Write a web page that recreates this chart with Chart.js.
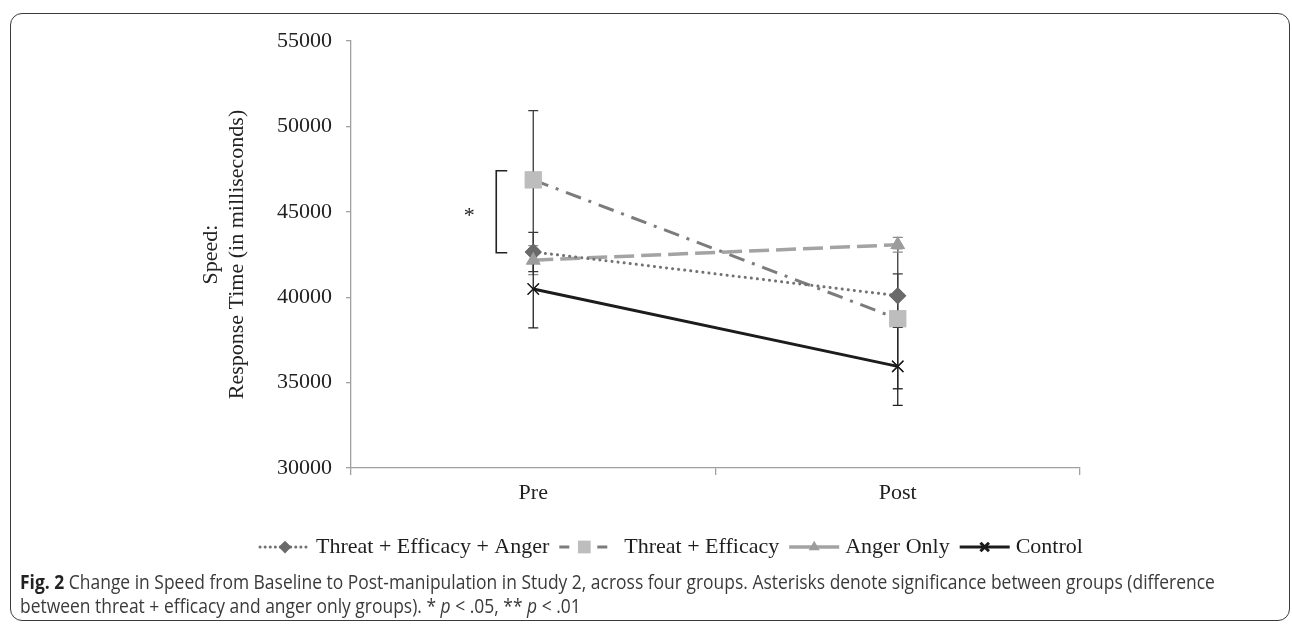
<!DOCTYPE html>
<html>
<head>
<meta charset="utf-8">
<script src="https://cdn.jsdelivr.net/npm/chart.js@4.4.1/dist/chart.umd.min.js"></script>
<style>
  html, body { margin: 0; padding: 0; background: #fff; }
  #wrap { position: relative; width: 1292px; height: 626px; overflow: hidden; }
  #moldura { position: absolute; left: 10px; top: 13px; width: 1280px; height: 608px;
    border: 1.5px solid #3a3a3a; border-radius: 12px; box-sizing: border-box; }
  #grafico { position: absolute; left: 0; top: 0; }
  #legenda-fig { position: absolute; left: 20px; top: 570px; color: #3a3a3a;
    font-family: "Open Sans", "Noto Sans", sans-serif; font-size: 19.5px;
    line-height: 24px; white-space: nowrap; transform: scaleX(0.895); transform-origin: 0 0; }
  #legenda-fig b { color: #222; }
</style>
</head>
<body>
<div id="wrap">
  <div id="moldura"></div>
  <canvas id="grafico" width="1292" height="626"></canvas>
  <div id="legenda-fig">
    <b>Fig. 2</b> Change in Speed from Baseline to Post-manipulation in Study 2, across four groups. Asterisks denote significance between groups (difference<br>
    between threat + efficacy and anger only groups). * <i>p</i> &lt; .05, ** <i>p</i> &lt; .01
  </div>
</div>
<script>
// dados
const categorias = ["Pre", "Post"];
const nomesGrupos = ["Threat + Efficacy + Anger", "Threat + Efficacy", "Anger Only", "Control"];
const mediasTEA = [42650, 40090];
const erroTEA = [1150, 1270];
const mediasTE = [46870, 38740];
const erroTE = [4050, 4100];
const mediasAO = [42170, 43070];
const erroAO = [850, 430];
const mediasCtrl = [40480, 35950];
const erroCtrl = [2280, 2280];
const ticksY = [30000, 35000, 40000, 45000, 50000, 55000];
const chaveSignif = [47400, 42600]; // colchete do asterisco em "Pre"

const fonteSerif = "'Liberation Serif', 'Times New Roman', serif";

const estilos = [
  { cor: "#727272", corPonto: "#6a6a6a", corErro: "#3a3a3a", ponto: "rectRot", raio: 8.5, largura: 3, dash: [0.1, 6], dashLeg: [0.1, 5], cap: "round" },
  { cor: "#7c7c7c", corPonto: "#bdbdbd", corErro: "#3a3a3a", ponto: "rect", raio: 12, largura: 3, dash: [16, 8, 3, 8], dashLeg: [10, 9], cap: "butt" },
  { cor: "#a3a3a3", corPonto: "#9c9c9c", corErro: "#8a8a8a", ponto: "triangle", raio: 8.5, largura: 3.5, dash: [20, 7], dashLeg: [], cap: "butt" },
  { cor: "#1c1c1c", corPonto: "#1c1c1c", corErro: "#222", ponto: "crossRot", raio: 8, largura: 3, dash: [], dashLeg: [], cap: "butt" }
];
const medias = [mediasTEA, mediasTE, mediasAO, mediasCtrl];
const erros = [erroTEA, erroTE, erroAO, erroCtrl];

const datasets = nomesGrupos.map((nome, i) => {
  const e = estilos[i];
  return {
    label: nome,
    data: medias[i],
    borderColor: e.cor,
    borderWidth: e.largura,
    borderDash: e.dash,
    borderCapStyle: e.cap,
    pointStyle: e.ponto,
    pointRadius: e.raio,
    pointBackgroundColor: e.corPonto,
    pointBorderColor: e.corPonto,
    pointBorderWidth: e.ponto === "crossRot" ? 1.2 : 0,
    tension: 0
  };
});

// barras de erro + colchete de significancia
const barrasErro = {
  id: "barrasErro",
  afterDatasetsDraw(chart) {
    const ctx = chart.ctx, y = chart.scales.y;
    chart.data.datasets.forEach((ds, i) => {
      const meta = chart.getDatasetMeta(i);
      meta.data.forEach((pt, j) => {
        const topo = y.getPixelForValue(medias[i][j] + erros[i][j]);
        const base = y.getPixelForValue(medias[i][j] - erros[i][j]);
        ctx.save();
        ctx.strokeStyle = estilos[i].corErro;
        ctx.lineWidth = 1.3;
        ctx.beginPath();
        ctx.moveTo(pt.x, topo); ctx.lineTo(pt.x, base);
        ctx.moveTo(pt.x - 5, topo); ctx.lineTo(pt.x + 5, topo);
        ctx.moveTo(pt.x - 5, base); ctx.lineTo(pt.x + 5, base);
        ctx.stroke();
        ctx.restore();
      });
    });
    // pontos por cima das barras
    chart.data.datasets.forEach((ds, i) => {
      chart.getDatasetMeta(i).data.forEach(pt => pt.draw(ctx, chart.chartArea));
    });

    const xPre = chart.getDatasetMeta(1).data[0].x;
    const y1 = y.getPixelForValue(chaveSignif[0]);
    const y2 = y.getPixelForValue(chaveSignif[1]);
    ctx.save();
    ctx.strokeStyle = "#222";
    ctx.lineWidth = 1.6;
    ctx.beginPath();
    ctx.moveTo(xPre - 26, y1); ctx.lineTo(xPre - 37, y1); ctx.lineTo(xPre - 37, y2); ctx.lineTo(xPre - 26, y2);
    ctx.stroke();
    ctx.fillStyle = "#222";
    ctx.font = "22px " + fonteSerif;
    ctx.textAlign = "center";
    ctx.textBaseline = "middle";
    ctx.fillText("*", xPre - 64, (y1 + y2) / 2 + 4);
    ctx.restore();
  }
};

// legenda com linha + marcador
const legendaLinhas = {
  id: "legendaLinhas",
  afterDraw(chart) {
    const ctx = chart.ctx;
    const yLeg = 547, larg = 52;
    let x = 258;
    ctx.save();
    ctx.font = "22px " + fonteSerif;
    ctx.textBaseline = "middle";
    nomesGrupos.forEach((nome, i) => {
      const e = estilos[i];
      ctx.save();
      ctx.strokeStyle = e.cor;
      ctx.lineWidth = e.largura;
      ctx.lineCap = e.cap;
      ctx.setLineDash(e.dashLeg);
      ctx.beginPath();
      ctx.moveTo(x + 2, yLeg); ctx.lineTo(x + larg, yLeg);
      ctx.stroke();
      ctx.setLineDash([]);
      ctx.fillStyle = e.corPonto;
      ctx.strokeStyle = e.corPonto;
      Chart.helpers.drawPoint(ctx, {
        pointStyle: e.ponto,
        radius: e.raio * 0.75,
        borderWidth: e.ponto === "crossRot" ? 1.4 : 0
      }, x + larg / 2 + 1, yLeg);
      ctx.restore();
      x += larg + (i === 1 ? 15 : 6);
      ctx.fillStyle = "#1e1e1e";
      ctx.fillText(nome, x, yLeg);
      x += ctx.measureText(nome).width + 8;
    });
    ctx.restore();
  }
};

const ctx = document.getElementById("grafico").getContext("2d");
new Chart(ctx, {
  type: "line",
  data: { labels: categorias, datasets },
  options: {
    responsive: false,
    animation: false,
    layout: { padding: { left: 0, top: 41, right: 212, bottom: 108 } },
    plugins: { legend: { display: false }, tooltip: { enabled: false } },
    scales: {
      x: {
        offset: true,
        grid: { offset: true, drawOnChartArea: false, tickLength: 7, color: "#a0a0a0", lineWidth: 1.3 },
        border: { color: "#a0a0a0", width: 1.3 },
        ticks: { color: "#222", font: { family: fonteSerif, size: 22 }, padding: 5 },
        afterFit(s) { s.height = 50; }
      },
      y: {
        min: 30000,
        max: 55000,
        afterBuildTicks(s) { s.ticks = ticksY.map(v => ({ value: v })); },
        grid: { drawOnChartArea: false, tickLength: 5, color: "#a0a0a0", lineWidth: 1.3 },
        border: { color: "#a0a0a0", width: 1.3 },
        ticks: { color: "#222", font: { family: fonteSerif, size: 22 }, padding: 14, callback: v => String(v) },
        title: {
          display: true,
          text: ["Speed:", "Response Time (in milliseconds)"],
          color: "#222",
          font: { family: fonteSerif, size: 22, lineHeight: 1.2 },
          padding: { top: 198, bottom: 0 }
        },
        afterFit(s) { s.width = 351; }
      }
    }
  },
  plugins: [barrasErro, legendaLinhas]
});
</script>
</body>
</html>
